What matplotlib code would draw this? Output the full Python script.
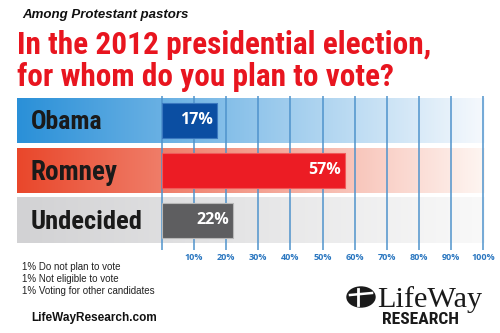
import numpy as np
import matplotlib
matplotlib.use('Agg')
import matplotlib.pyplot as plt
from matplotlib.colors import LinearSegmentedColormap
from matplotlib.patches import Ellipse
from matplotlib.transforms import blended_transform_factory

# data
categories = ['Obama', 'Romney', 'Undecided']
values = [17, 57, 22]
bar_colors = ['#0b4ea2', '#ec1c24', '#5e5e60']
bar_edges = ['#3a78c0', '#f05a5a', '#b8b8b8']
band_left = ['#2a90d8', '#e9472b', '#d2d2d4']
band_right = ['#f6f9fd', '#fef6f2', '#f9f9f9']
ticks = [0, 10, 20, 30, 40, 50, 60, 70, 80, 90, 100]
tick_labels = ['', '10%', '20%', '30%', '40%', '50%', '60%', '70%', '80%', '90%', '100%']
notes = ['1% Do not plan to vote', '1% Not eligible to vote', '1% Voting for other candidates']

COND = ['Roboto Condensed', 'PT Sans Narrow', 'Archivo Narrow', 'DejaVu Sans']

W, H = 500, 333
fig = plt.figure(figsize=(W / 100, H / 100), dpi=100)
fig.patch.set_facecolor('white')
renderer = fig.canvas.get_renderer()

def fx(px):
    return px / W

def fy(py):
    return 1 - py / H

def fit(t, width_px):
    # shrink/grow font so the text spans the width seen in the reference
    w = t.get_window_extent(renderer=renderer).width
    t.set_fontsize(t.get_fontsize() * width_px / w)

# chart axes: pixel 17..485 horizontally, 96..250 vertically
scale = 3.21  # px per percent, 0% at px 162
x0 = (17 - 162) / scale
x1 = (485 - 162) / scale
ax = fig.add_axes([fx(17), fy(250), fx(485) - fx(17), fy(96) - fy(250)])
ax.set_xlim(x0, x1)
ax.set_ylim(2.59, -0.49)
ax.axis('off')

grad = np.linspace(0, 1, 256).reshape(1, -1)
for i, cat in enumerate(categories):
    cmap = LinearSegmentedColormap.from_list('b%d' % i, [band_left[i], band_right[i]])
    ax.imshow(grad, cmap=cmap, extent=(x0, x1, i + 0.45, i - 0.45), aspect='auto', zorder=1)

for t in ticks:
    ax.axvline(t, color='#4f93cc', lw=1.1, zorder=2)

ax.barh(range(len(values)), values, height=0.7, color=bar_colors, edgecolor=bar_edges,
        linewidth=0.8, zorder=3)

cat_widths = [72, 87, 112]
for i, (cat, v) in enumerate(zip(categories, values)):
    t = ax.text(x0 + 14 / scale, i + 0.03, cat, ha='left', va='center', fontsize=19,
                family=COND, weight='bold', color='#1a1a1a', zorder=4)
    fit(t, cat_widths[i])
    ax.text(v - 1.2, i, '%d%%' % v, ha='right', va='center', fontsize=11.5,
            family='Open Sans', weight='bold', color='white', zorder=4)

tr = blended_transform_factory(ax.transData, fig.transFigure)
for t, lab in zip(ticks, tick_labels):
    ax.text(t, fy(258), lab, transform=tr, ha='center', va='center', fontsize=6.5,
            family='Open Sans', weight='bold', color='#2b77c0')

# titles
fig.text(fx(22), fy(15), 'Among Protestant pastors', ha='left', va='center', fontsize=9.5,
         family='Liberation Sans', weight='bold', style='italic', color='#111111')
t1 = fig.text(fx(17), fy(54), 'In the 2012 presidential election,', ha='left', va='baseline',
              fontsize=24, family=COND, weight='bold', color='#e8151f')
fit(t1, 415)
t2 = fig.text(fx(17), fy(86), 'for whom do you plan to vote?', ha='left', va='baseline',
              fontsize=t1.get_fontsize(), family=COND, weight='bold', color='#e8151f')

# footnotes
for k, n in enumerate(notes):
    fig.text(fx(22), fy(267 + 12 * k), n, ha='left', va='center', fontsize=7,
             family='Liberation Sans', color='#222222')

fig.text(fx(31), fy(318), 'LifeWayResearch.com', ha='left', va='center', fontsize=8.5,
         family='Liberation Sans', weight='bold', color='#111111')

# logo
fig.patches.append(Ellipse((fx(361), fy(297)), fx(28), 20 / H, color='#1a1a1a',
                           transform=fig.transFigure, figure=fig))
fig.lines.append(plt.Line2D([fx(358), fx(358)], [fy(289), fy(305)], color='white', lw=2,
                            transform=fig.transFigure, figure=fig))
fig.lines.append(plt.Line2D([fx(350), fx(372)], [fy(295), fy(293)], color='white', lw=1.8,
                            transform=fig.transFigure, figure=fig))
lw = fig.text(fx(377), fy(307), 'LifeWay', ha='left', va='baseline', fontsize=21,
              family='Liberation Serif', color='#1a1a1a')
fit(lw, 105)
rs = fig.text(fx(382), fy(319), 'RESEARCH', ha='left', va='center', fontsize=12,
              family=COND, weight='bold', color='#1a1a1a')
fit(rs, 77)

fig.savefig('out.png', dpi=100)
